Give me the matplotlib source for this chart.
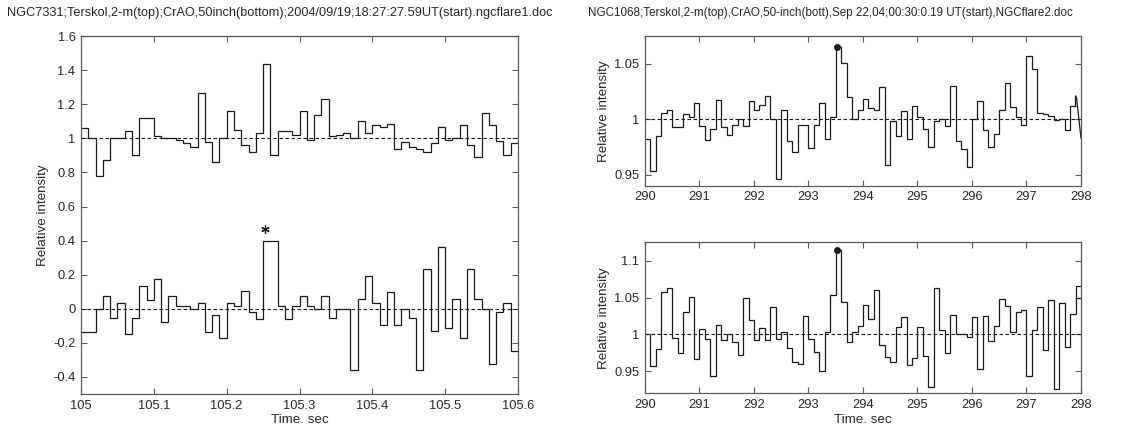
import numpy as np
import matplotlib
matplotlib.use("Agg")
import matplotlib.pyplot as plt
from matplotlib.ticker import FuncFormatter

# ---------------- data ----------------
left_title = "NGC7331;Terskol,2-m(top);CrAO,50inch(bottom);2004/09/19;18:27:27.59UT(start).ngcflare1.doc"
right_title = "NGC1068;Terskol,2-m(top),CrAO,50-inch(bott),Sep 22,04;00:30:0.19 UT(start),NGCflare2.doc"

left_t0 = 105.0
left_dt = 0.01
left_top = [1.063, 1.0, 0.78, 0.87, 1.0, 1.0, 1.04, 0.90, 1.117, 1.117,
            1.012, 1.004, 1.004, 0.99, 0.97, 0.95, 1.267, 0.98, 0.86, 1.0,
            1.162, 1.05, 0.962, 0.917, 1.03, 1.437, 0.90, 1.04, 1.04, 1.018,
            1.162, 0.99, 1.137, 1.23, 1.012, 1.018, 1.03, 1.0, 1.103, 1.03,
            1.077, 1.067, 1.085, 0.94, 0.98, 0.95, 0.935, 0.917, 0.97, 1.067,
            0.988, 1.004, 1.08, 0.962, 0.89, 1.147, 1.08, 0.984, 0.90, 0.97]
left_bottom = [-0.134, -0.134, 0.0, 0.074, -0.056, 0.036, -0.15, -0.056, 0.136, 0.054,
               0.174, -0.076, 0.074, 0.018, 0.018, 0.0, 0.036, -0.134, -0.038, -0.17,
               0.036, 0.018, 0.102, -0.018, -0.058, 0.40, 0.40, 0.018, -0.058, 0.018,
               0.074, 0.018, 0.0, 0.074, -0.056, 0.0, 0.0, -0.358, 0.056, 0.192,
               0.036, -0.094, 0.10, -0.094, 0.0, -0.056, -0.358, 0.232, -0.132, 0.362,
               -0.114, 0.056, -0.17, 0.232, 0.056, 0.0, -0.322, -0.02, 0.036, -0.246]
left_flag_t = [105.2525]
left_flag_v = [0.47]
left_refs = [1.0, 0.0]
left_xticks = [105, 105.1, 105.2, 105.3, 105.4, 105.5, 105.6]
left_yticks = [-0.4, -0.2, 0, 0.2, 0.4, 0.6, 0.8, 1.0, 1.2, 1.4, 1.6]

right_t0 = 290.0
right_dt = 0.1
right_top = [0.982, 0.953, 0.985, 1.006, 1.008, 0.9925, 0.9925, 1.005, 1.002, 1.0145,
             0.994, 0.981, 0.9915, 1.017, 0.993, 0.986, 0.9945, 1.0, 0.994, 1.016,
             1.0085, 1.013, 1.0205, 1.0005, 0.946, 1.0085, 0.980, 0.9705, 0.9945, 0.995,
             0.974, 0.995, 1.0145, 0.982, 1.002, 1.065, 1.051, 1.020, 1.0003, 1.008,
             1.018, 1.0105, 1.008, 1.029, 0.959, 0.9985, 0.985, 1.007, 0.982, 1.0123,
             1.0024, 0.991, 0.975, 0.998, 1.0, 0.994, 1.030, 0.9805, 0.973, 0.957,
             1.0, 1.016, 0.990, 0.975, 0.987, 1.008, 1.033, 1.011, 1.002, 0.995,
             1.057, 1.045, 1.006, 1.005, 1.003, 0.999, 1.0, 0.99, 1.012]
right_top_tail_t = [297.9, 297.9, 297.92, 298.0]
right_top_tail_v = [1.012, 1.021, 1.019, 0.983]
right_bottom = [1.001, 0.957, 0.980, 1.058, 1.063, 0.995, 0.9745, 1.030, 1.051, 0.966,
                1.007, 0.9935, 0.9436, 1.013, 0.992, 1.0, 0.9895, 0.972, 1.049, 1.020,
                0.992, 1.0086, 0.9927, 1.037, 0.9936, 1.003, 0.982, 0.963, 0.960, 1.025,
                0.9936, 0.976, 0.950, 1.0036, 1.053, 1.115, 1.0445, 0.9895, 1.003, 1.012,
                1.0395, 1.021, 1.060, 0.986, 0.9686, 0.962, 1.0095, 1.023, 0.9586, 0.968,
                1.010, 0.970, 0.928, 1.063, 1.006, 0.9745, 1.026, 1.0, 1.0, 0.997,
                1.023, 0.953, 1.0245, 0.991, 1.011, 1.0486, 1.038, 1.003, 1.031, 1.033,
                0.9436, 1.006, 1.037, 0.979, 1.046, 0.9255, 1.042, 0.9827, 1.027, 1.065]
right_bottom_tail_t = [297.9, 298.0]
right_bottom_tail_v = [1.05, 1.05]
right_top_peak_t = [293.53]
right_top_peak_v = [1.065]
right_bottom_peak_t = [293.53]
right_bottom_peak_v = [1.115]
right_xticks = [290, 291, 292, 293, 294, 295, 296, 297, 298]
right_top_yticks = [0.95, 1.0, 1.05]
right_bottom_yticks = [0.95, 1.0, 1.05, 1.1]

# ---------------- style ----------------
plt.rcParams['font.family'] = ['Liberation Sans', 'DejaVu Sans']
TXT = '#262626'
SPINE = '#5a5a5a'
LINE = '#1a1a1a'
FS = 9.3
LFS = 9.6

fmt = FuncFormatter(lambda v, p: ('%g' % round(v, 6)))

fig = plt.figure(figsize=(11.3, 4.28), dpi=100)


def style(ax):
    for s in ax.spines.values():
        s.set_color(SPINE)
        s.set_linewidth(0.9)
    ax.tick_params(direction='in', top=True, right=True, length=4, width=0.8,
                   color=SPINE, labelcolor=TXT, labelsize=FS, pad=4)
    ax.xaxis.set_major_formatter(fmt)
    ax.yaxis.set_major_formatter(fmt)


def edges(t0, dt, n):
    return t0 + dt * np.arange(n + 1)


dash = (0, (3.2, 2.2))

# left panel
axL = fig.add_axes([0.0717, 0.0794, 0.3867, 0.8364])
axL.stairs(left_top, edges(left_t0, left_dt, len(left_top)), baseline=None, color=LINE, lw=0.9)
axL.stairs(left_bottom, edges(left_t0, left_dt, len(left_bottom)), baseline=None, color=LINE, lw=0.9)
for r in left_refs:
    axL.axhline(r, color=LINE, lw=0.8, ls=dash)
axL.plot(left_flag_t, left_flag_v, ls='none', marker=(6, 2, 0), ms=6, mew=0.9, color=LINE)
axL.set_xlim(105, 105.6)
axL.set_ylim(-0.5, 1.6)
axL.set_xticks(left_xticks)
axL.set_yticks(left_yticks)
style(axL)
axL.set_ylabel('Relative intensity', fontsize=LFS, color=TXT, labelpad=3)
axL.set_xlabel('Time. sec', fontsize=LFS, color=TXT, labelpad=2)

# right top
axRT = fig.add_axes([0.5708, 0.5661, 0.3858, 0.3498])
axRT.stairs(right_top, edges(right_t0, right_dt, len(right_top)), baseline=None, color=LINE, lw=0.9)
axRT.plot(right_top_tail_t, right_top_tail_v, color=LINE, lw=0.9)
axRT.axhline(1.0, color=LINE, lw=0.8, ls=dash)
axRT.plot(right_top_peak_t, right_top_peak_v, 'o', ms=4, color=LINE)
axRT.set_xlim(290, 298)
axRT.set_ylim(0.94, 1.075)
axRT.set_xticks(right_xticks)
axRT.set_yticks(right_top_yticks)
style(axRT)
axRT.set_ylabel('Relative intensity', fontsize=LFS, color=TXT, labelpad=3)

# right bottom
axRB = fig.add_axes([0.5708, 0.0811, 0.3858, 0.3528])
axRB.stairs(right_bottom, edges(right_t0, right_dt, len(right_bottom)), baseline=None, color=LINE, lw=0.9)
axRB.plot(right_bottom_tail_t, right_bottom_tail_v, color=LINE, lw=0.9)
axRB.axhline(1.0, color=LINE, lw=0.8, ls=dash)
axRB.plot(right_bottom_peak_t, right_bottom_peak_v, 'o', ms=4, color=LINE)
axRB.set_xlim(290, 298)
axRB.set_ylim(0.92, 1.125)
axRB.set_xticks(right_xticks)
axRB.set_yticks(right_bottom_yticks)
style(axRB)
axRB.set_ylabel('Relative intensity', fontsize=LFS, color=TXT, labelpad=3)
axRB.set_xlabel('Time. sec', fontsize=LFS, color=TXT, labelpad=2)

# titles
fig.text(7 / 1130, 1 - 13 / 428, left_title, fontsize=9.2, color=TXT, ha='left', va='center')
fig.text(588 / 1130, 1 - 13 / 428, right_title, fontsize=8.4, color=TXT, ha='left', va='center')

fig.savefig('out.png', dpi=100)
